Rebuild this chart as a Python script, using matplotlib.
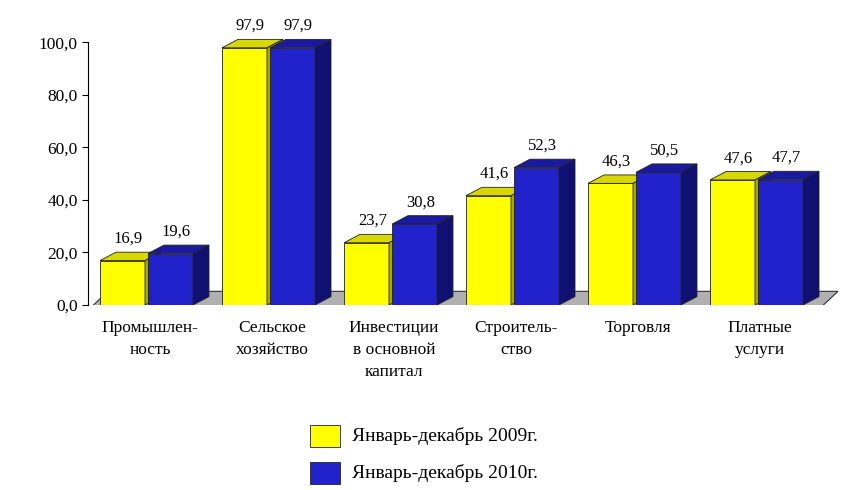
import matplotlib
matplotlib.use("Agg")
import matplotlib.pyplot as plt
from matplotlib.patches import Polygon, Rectangle

categories = ["Промышлен-\nность", "Сельское\nхозяйство", "Инвестиции\nв основной\nкапитал",
              "Строитель-\nство", "Торговля", "Платные\nуслуги"]
v2009 = [16.9, 97.9, 23.7, 41.6, 46.3, 47.6]
v2010 = [19.6, 97.9, 30.8, 52.3, 50.5, 47.7]
lab2009 = ["16,9", "97,9", "23,7", "41,6", "46,3", "47,6"]
lab2010 = ["19,6", "97,9", "30,8", "52,3", "50,5", "47,7"]
series_names = ["Январь-декабрь 2009г.", "Январь-декабрь 2010г."]

W, H = 848, 490
fig = plt.figure(figsize=(W/100, H/100), dpi=100)
ax = fig.add_axes([88/W, 1-305/H, (W-88)/W, 289/H])
ax.set_xlim(88, W)
ax.set_ylim(0, 110)
serif = "Liberation Serif"

dx, dy = 16, 3.2
bw = 45
ax.add_patch(Polygon([(92, -0.5), (822, -0.5), (822+dx, dy+2), (92+dx, dy+2)],
                     closed=True, fc="#b0b0b0", ec="#333333", lw=0.8, zorder=1))

def bar3d(x0, h, front, top, side):
    ax.add_patch(Rectangle((x0, 0), bw, h, fc=front, ec="#222222", lw=0.6, zorder=3))
    ax.add_patch(Polygon([(x0, h), (x0+bw, h), (x0+bw+dx, h+dy), (x0+dx, h+dy)],
                         fc=top, ec="#222222", lw=0.6, zorder=3))
    ax.add_patch(Polygon([(x0+bw, 0), (x0+bw+dx, dy), (x0+bw+dx, h+dy), (x0+bw, h)],
                         fc=side, ec="#222222", lw=0.6, zorder=3))

for i in range(len(categories)):
    x0 = 100 + 122*i
    bar3d(x0, v2009[i], "#ffff00", "#d8d800", "#a8a800")
    bar3d(x0+48, v2010[i], "#2222cc", "#1a1aa0", "#101070")
    ax.text(x0+bw/2+6, v2009[i]+dy+2, lab2009[i], ha="center", va="bottom",
            fontsize=12, family=serif)
    ax.text(x0+48+bw/2+6, v2010[i]+dy+2, lab2010[i], ha="center", va="bottom",
            fontsize=12, family=serif)
    fig.text((x0+50)/W, 1-320/H, categories[i], ha="center", va="top",
             fontsize=12.5, family=serif, linespacing=1.5)

for s in ["top", "right", "bottom"]:
    ax.spines[s].set_visible(False)
ax.spines["left"].set_bounds(0, 100)
ax.set_xticks([])
ticks = [0, 20, 40, 60, 80, 100]
ax.set_yticks(ticks)
ax.set_yticklabels([f"{t:.1f}".replace(".", ",") for t in ticks], fontsize=12.5, family=serif)
ax.tick_params(axis="y", direction="out", length=4)

for j, (name, col) in enumerate(zip(series_names, ["#ffff00", "#2222cc"])):
    yb = 447 + 37*j
    fig.patches.append(Rectangle((310/W, 1-yb/H), 30/W, 22/H, transform=fig.transFigure,
                                 fc=col, ec="#222222", lw=0.6))
    fig.text(352/W, 1-(yb-11)/H, name, ha="left", va="center", fontsize=14, family=serif)

fig.savefig("out.png", dpi=100)
